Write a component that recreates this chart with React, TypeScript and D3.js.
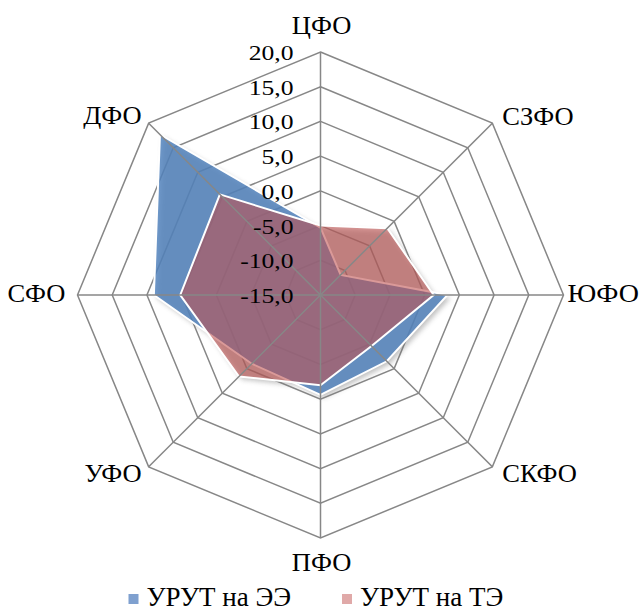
import React from "react";
import * as d3 from "d3";

const categories = ["ЦФО", "СЗФО", "ЮФО", "СКФО", "ПФО", "УФО", "СФО", "ДФО"];
const seriesNames = ["УРУТ на ЭЭ", "УРУТ на ТЭ"];
const valuesEE = [-5.3, -10.9, 3.3, -1.5, -0.6, -1.0, 9.0, 17.7];
const valuesTE = [-5.0, -1.4, 1.3, -4.6, -2.0, 1.6, 5.2, 5.5];
const ticks = [-15, -10, -5, 0, 5, 10, 15, 20];

const W = 641;
const H = 611;
const cx = 320.5;
const cy = 295;
const R = 243;

const r = d3.scaleLinear().domain([-15, 20]).range([0, R]);
const angle = (i: number) => (i * 2 * Math.PI) / categories.length;
const pt = (i: number, v: number): [number, number] => {
  const a = angle(i);
  const rr = r(v);
  return [cx + rr * Math.sin(a), cy - rr * Math.cos(a)];
};

const lineClosed = d3.line<[number, number]>().curve(d3.curveLinearClosed);

// label anchor points as offsets from the outer vertex (baseline positions)
const labelPos: { dx: number; dy: number; anchor: string; sx: number }[] = [
  { dx: 1, dy: -18.5, anchor: "middle", sx: 1.06 },
  { dx: 10, dy: 2, anchor: "start", sx: 1.06 },
  { dx: 4, dy: 7, anchor: "start", sx: 1.12 },
  { dx: 10, dy: 15, anchor: "start", sx: 1.06 },
  { dx: 1, dy: 33, anchor: "middle", sx: 1.06 },
  { dx: -7, dy: 15, anchor: "end", sx: 1.06 },
  { dx: -12, dy: 7, anchor: "end", sx: 1.06 },
  { dx: -7, dy: 1, anchor: "end", sx: 1.06 },
];

const font = "'Liberation Serif', Tinos, 'Times New Roman', serif";

function SText(props: {
  x: number;
  y: number;
  size: number;
  sx: number;
  anchor?: string;
  children: React.ReactNode;
}) {
  const { x, y, size, sx, anchor = "start", children } = props;
  return (
    <text
      transform={`translate(${x},${y}) scale(${sx},1)`}
      textAnchor={anchor as any}
      style={{ fontFamily: font, fontSize: `${size}px` }}
      fill="#000"
    >
      {children}
    </text>
  );
}

export default function App() {
  const polyEE = valuesEE.map((v, i) => pt(i, v));
  const polyTE = valuesTE.map((v, i) => pt(i, v));
  return (
    <svg width={W} height={H} style={{ display: "block", position: "absolute", left: 0, top: 0 }}>
      <defs>
        <filter id="blur" x="-20%" y="-20%" width="140%" height="140%">
          <feGaussianBlur stdDeviation="2.5" />
        </filter>
      </defs>
      <rect width={W} height={H} fill="#fff" />
      {ticks.slice(1).map((t) => (
        <path
          key={t}
          d={lineClosed(categories.map((_, i) => pt(i, t))) || ""}
          fill="none"
          stroke="#878787"
          strokeWidth={1.5}
        />
      ))}
      <g filter="url(#blur)" opacity={0.45} transform="translate(3,3)">
        <path d={lineClosed(polyEE) || ""} fill="#777" />
        <path d={lineClosed(polyTE) || ""} fill="#777" />
      </g>
      <path d={lineClosed(polyEE) || ""} fill="#4F81BD" fillOpacity={0.82} stroke="#fff" strokeWidth={2} />
      <path d={lineClosed(polyTE) || ""} fill="#C0504D" fillOpacity={0.58} stroke="#fff" strokeWidth={2} />
      {categories.map((c, i) => {
        const [x, y] = pt(i, 20);
        return <line key={c} x1={cx} y1={cy} x2={x} y2={y} stroke="#878787" strokeWidth={1.5} />;
      })}
      {ticks.map((t) => (
        <SText key={t} x={293.5} y={cy - r(t) + 8} size={21} sx={1.22} anchor="end">
          {t.toFixed(1).replace(".", ",")}
        </SText>
      ))}
      {categories.map((c, i) => {
        const [x, y] = pt(i, 20);
        const p = labelPos[i];
        return (
          <SText key={c} x={x + p.dx} y={y + p.dy} size={25} sx={p.sx} anchor={p.anchor}>
            {c}
          </SText>
        );
      })}
      <rect x={128.5} y={594} width={10} height={10} fill="#7FA0CF" />
      <SText x={146.5} y={606} size={27} sx={1}>
        {seriesNames[0]}
      </SText>
      <rect x={342} y={594} width={10} height={10} fill="#E0A9A8" />
      <SText x={360} y={606} size={27} sx={1}>
        {seriesNames[1]}
      </SText>
    </svg>
  );
}
